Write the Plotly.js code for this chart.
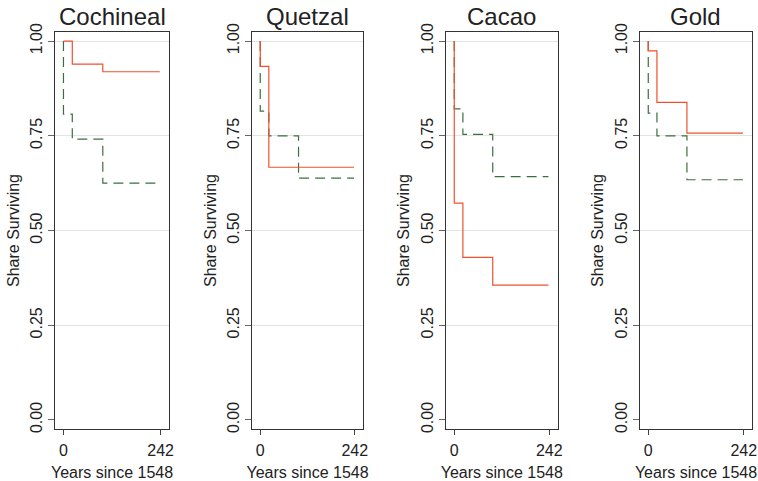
<!DOCTYPE html>
<html>
<head>
<meta charset="utf-8">
<script src="https://cdn.plot.ly/plotly-3.0.1.min.js"></script>
<style>html,body{margin:0;padding:0;background:#fff;}#chart{width:758px;height:481px;}</style>
</head>
<body>
<div id="chart"></div>
<script>
// Panel titles
const panels = ["Cochineal", "Quetzal", "Cacao", "Gold"];
// Step times (years since 1548)
const times = [0, 22, 98, 240];
// Red (solid) survival series, value at each step time
const redSeries = [
  [1.000, 0.939, 0.919, 0.919],
  [0.933, 0.667, 0.667, 0.667],
  [0.572, 0.429, 0.356, 0.356],
  [0.974, 0.838, 0.757, 0.757]
];
// Green (dashed) survival series
const greenSeries = [
  [0.807, 0.741, 0.625, 0.625],
  [0.815, 0.750, 0.638, 0.638],
  [0.821, 0.754, 0.642, 0.642],
  [0.810, 0.750, 0.634, 0.634]
];
const xTicks = [0, 242];
const yTicks = [0, 0.25, 0.5, 0.75, 1];
const yTickText = ["0.00", "0.25", "0.50", "0.75", "1.00"];

const xDomains = [[0.0726, 0.2230], [0.3325, 0.4789], [0.5884, 0.7355], [0.8443, 0.9921]];
const yDomain = [0.1081, 0.9335];

const data = [];
const layout = {
  width: 758, height: 481,
  margin: {l: 0, r: 0, t: 0, b: 0},
  paper_bgcolor: "#fff", plot_bgcolor: "#fff",
  showlegend: false,
  font: {family: "Liberation Sans, Arial, sans-serif", color: "#222", size: 16},
  annotations: []
};

panels.forEach((name, i) => {
  const n = i + 1;
  const xa = n === 1 ? "x" : "x" + n;
  const ya = n === 1 ? "y" : "y" + n;
  const xs = [0].concat(times);
  data.push({
    x: xs, y: [1].concat(greenSeries[i]), xaxis: xa, yaxis: ya,
    type: "scatter", mode: "lines",
    line: {shape: "hv", color: "#3d6e3f", width: 1.2, dash: "10px,6px"}
  });
  data.push({
    x: xs, y: [1].concat(redSeries[i]), xaxis: xa, yaxis: ya,
    type: "scatter", mode: "lines",
    line: {shape: "hv", color: "#f0502d", width: 1.2}
  });
  const axKeyX = n === 1 ? "xaxis" : "xaxis" + n;
  const axKeyY = n === 1 ? "yaxis" : "yaxis" + n;
  layout[axKeyX] = {
    domain: xDomains[i], anchor: ya, range: [-21, 263],
    tickmode: "array", tickvals: xTicks, ticktext: xTicks.map(String),
    ticks: "outside", ticklen: 5, tickcolor: "#444", tickwidth: 1,
    ticklabelstandoff: 2,
    showgrid: false, zeroline: false,
    showline: true, mirror: true, linecolor: "#333", linewidth: 1,
    tickfont: {size: 16, color: "#222"},
    title: {text: "Years since 1548", font: {size: 16, color: "#222"}, standoff: 8}
  };
  layout[axKeyY] = {
    domain: yDomain, anchor: xa, range: [-0.024, 1.024],
    tickmode: "array", tickvals: yTicks, ticktext: yTickText,
    tickangle: -90,
    ticks: "outside", ticklen: 6, tickcolor: "#666", tickwidth: 1,
    showgrid: false, zeroline: false,
    minor: {tickmode: "array", tickvals: [0.25, 0.5, 0.75, 1], showgrid: true, gridcolor: "#e3e3e3", gridwidth: 1, ticks: ""},
    showline: true, mirror: true, linecolor: "#333", linewidth: 1,
    tickfont: {size: 16, color: "#222"},
    title: {text: "Share Surviving", font: {size: 16, color: "#222"}, standoff: 4}
  };
  layout.annotations.push({
    text: name, xref: "paper", yref: "paper",
    x: (xDomains[i][0] + xDomains[i][1]) / 2, y: 1 - 16 / 481,
    xanchor: "center", yanchor: "middle", showarrow: false,
    font: {size: 24, color: "#222"}
  });
});

Plotly.newPlot("chart", data, layout, {displayModeBar: false, staticPlot: true});
</script>
</body>
</html>
